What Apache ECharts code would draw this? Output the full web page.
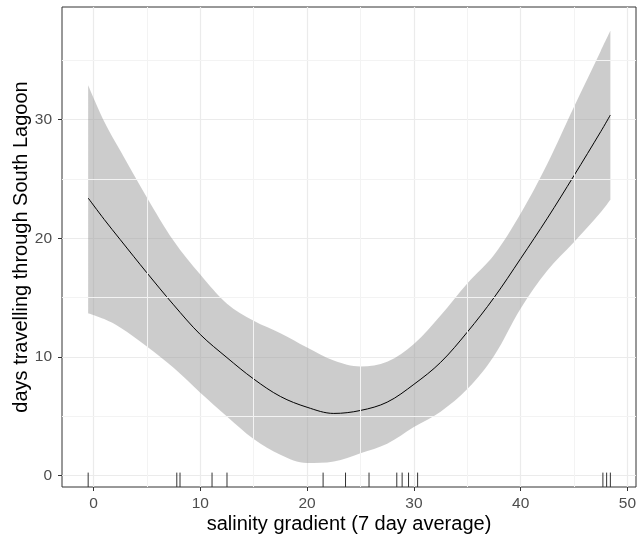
<!DOCTYPE html>
<html>
<head>
<meta charset="utf-8">
<script src="https://cdn.jsdelivr.net/npm/echarts@6/dist/echarts.min.js"></script>
<style>html,body{margin:0;padding:0;background:#fff}#chart{width:637px;height:544px}</style>
</head>
<body>
<div id="chart"></div>
<script>
// ---- data ----
const xs     = [-0.5, 1, 2.5, 5, 7.5, 10, 12.5, 15, 17.5, 20, 22.5, 25, 27.5, 30, 32.5, 35, 37.5, 40, 42.5, 45, 47.5, 48.4];
const fitY   = [23.4, 21.6, 19.9, 17.1, 14.4, 11.9, 9.95, 8.15, 6.68, 5.77, 5.25, 5.5, 6.2, 7.7, 9.55, 12.1, 15.0, 18.3, 21.7, 25.3, 29.0, 30.4];
const upperY = [32.9, 29.85, 27.4, 23.45, 19.8, 16.95, 14.5, 13.05, 12.0, 10.8, 9.7, 9.2, 9.6, 11.1, 13.5, 16.2, 18.6, 22.1, 26.3, 31.1, 35.8, 37.5];
const lowerY = [13.7, 13.2, 12.5, 10.9, 9.1, 7.0, 5.0, 3.1, 1.77, 1.07, 1.2, 1.9, 2.7, 4.1, 5.4, 7.3, 10.1, 14.1, 17.3, 19.7, 22.2, 23.25];
const rugX   = [-0.5, 7.8, 8.1, 11.1, 12.5, 21.5, 23.6, 25.8, 28.4, 28.9, 29.5, 30.35, 47.7, 48.05, 48.4];
const xTicks = [0, 10, 20, 30, 40, 50];
const yTicks = [0, 10, 20, 30];
const xMinor = [5, 15, 25, 35, 45];
const yMinor = [5, 15, 25, 35];
const X_MIN = -2.95, X_MAX = 50.8, Y_MIN = -0.95, Y_MAX = 39.5;

const FONT = "'Liberation Sans', Arial, sans-serif";
const chart = echarts.init(document.getElementById('chart'), null, {renderer: 'canvas'});

// y value first so that stacking is done on the y dimension
const lowerData = xs.map((x, i) => [lowerY[i], x]);
const bandData  = xs.map((x, i) => [+(upperY[i] - lowerY[i]).toFixed(3), x]);
const fitData   = xs.map((x, i) => [x, fitY[i]]);

const minorLines = xMinor.map(v => ({xAxis: v})).concat(yMinor.map(v => ({yAxis: v})));

chart.setOption({
  animation: false,
  backgroundColor: '#ffffff',
  grid: {left: 62, right: 1, top: 7, bottom: 57, outerBoundsMode: 'none', containLabel: false,
         show: true, borderColor: '#333333', borderWidth: 1, backgroundColor: 'transparent'},
  xAxis: {
    type: 'value', min: X_MIN, max: X_MAX,
    name: 'salinity gradient (7 day average)', nameLocation: 'middle', nameGap: 27, nameMoveOverlap: false,
    nameTextStyle: {fontFamily: FONT, fontSize: 20, color: '#000000'},
    axisLine: {show: false, onZero: false},
    axisTick: {show: true, length: 4, lineStyle: {color: '#333333', width: 1}, customValues: xTicks},
    axisLabel: {fontFamily: FONT, fontSize: 15.5, color: '#4d4d4d', margin: 8.5, customValues: xTicks},
    splitLine: {show: true, lineStyle: {color: '#ebebeb', width: 1.2}}
  },
  yAxis: {
    type: 'value', min: Y_MIN, max: Y_MAX,
    name: 'days travelling through South Lagoon', nameLocation: 'middle', nameGap: 31, nameRotate: 90, nameMoveOverlap: false,
    nameTextStyle: {fontFamily: FONT, fontSize: 20, color: '#000000'},
    axisLine: {show: false, onZero: false},
    axisTick: {show: true, length: 4, lineStyle: {color: '#333333', width: 1}, customValues: yTicks},
    axisLabel: {fontFamily: FONT, fontSize: 15.5, color: '#4d4d4d', margin: 10, customValues: yTicks},
    splitLine: {show: true, lineStyle: {color: '#ebebeb', width: 1.2}}
  },
  series: [
    {
      type: 'line', data: [], z: 1, silent: true,
      markLine: {silent: true, symbol: 'none', label: {show: false},
        lineStyle: {color: '#f3f3f3', width: 1, type: 'solid'}, emphasis: {disabled: true}, data: minorLines}
    },
    {
      type: 'line', data: lowerData, encode: {x: 1, y: 0}, stack: 'band', smooth: 0.35, symbol: 'none',
      lineStyle: {opacity: 0}, z: 2, silent: true
    },
    {
      type: 'line', data: bandData, encode: {x: 1, y: 0}, stack: 'band', smooth: 0.35, symbol: 'none',
      lineStyle: {opacity: 0}, areaStyle: {color: 'rgba(153,153,153,0.5)', opacity: 1}, z: 2, silent: true
    },
    {
      type: 'line', data: fitData, smooth: 0.35, symbol: 'none',
      lineStyle: {color: '#000000', width: 1}, z: 3, silent: true
    },
    {
      type: 'custom', z: 4, silent: true,
      data: rugX.map(v => [v, Y_MIN]),
      encode: {x: 0, y: 1},
      renderItem: function (params, api) {
        const p = api.coord([api.value(0), api.value(1)]);
        return {type: 'line', shape: {x1: p[0], y1: p[1], x2: p[0], y2: p[1] - 14.4},
                style: {stroke: '#333333', lineWidth: 1}};
      }
    }
  ]
});
</script>
</body>
</html>
